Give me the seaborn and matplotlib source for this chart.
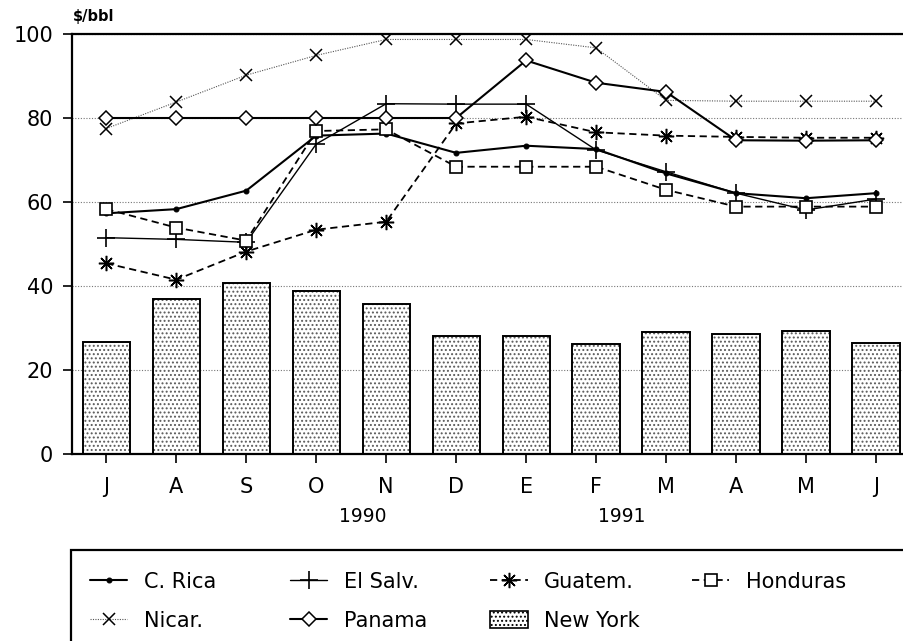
import numpy as np
import matplotlib
matplotlib.use("Agg")
import matplotlib.pyplot as plt
import seaborn as sns
from matplotlib.lines import Line2D
from matplotlib.patches import Patch, Rectangle
from matplotlib.transforms import blended_transform_factory

# Monthly prices, $/bbl, July 1990 - June 1991
months = ["J", "A", "S", "O", "N", "D", "E", "F", "M", "A", "M", "J"]
new_york = [26.6, 37.0, 40.8, 38.8, 35.8, 28.1, 28.1, 26.2, 29.1, 28.6, 29.3, 26.4]
c_rica = [57.3, 58.3, 62.7, 75.8, 76.3, 71.7, 73.4, 72.6, 66.8, 62.1, 60.9, 62.1]
el_salv = [51.5, 51.1, 50.4, 73.8, 83.4, 83.3, 83.3, 72.4, 67.2, 62.1, 58.1, 60.7]
guatem = [45.4, 41.5, 48.2, 53.4, 55.3, 78.7, 80.3, 76.6, 75.8, 75.5, 75.3, 75.3]
honduras = [58.3, 53.9, 50.8, 76.9, 77.3, 68.4, 68.4, 68.4, 62.9, 58.9, 58.9, 58.9]
nicar = [77.5, 83.8, 90.2, 94.9, 98.7, 98.7, 98.7, 96.7, 84.2, 84.0, 84.0, 84.0]
panama = [80.0, 80.0, 80.0, 80.0, 80.0, 80.0, 93.7, 88.4, 86.2, 74.7, 74.6, 74.7]
year_labels = ["1990", "1991"]
year_label_pos = [3.67, 7.36]

sns.set_style("ticks")
plt.rcParams["font.family"] = ["DejaVu Sans"]
plt.rcParams["text.color"] = "black"
plt.rcParams["hatch.linewidth"] = 0.9

W, H = 904, 641
fig = plt.figure(figsize=(W / 100, H / 100), dpi=100)
ax = fig.add_axes([72 / W, 187 / H, 832 / W, 420 / H])

pos = np.arange(len(months))

# New York bars: stippled fill, then a black outline on top
stipple = "...."
stipple_color = "#5a5a5a"
sns.barplot(x=pos, y=new_york, color="white", saturation=1, width=0.675,
            edgecolor=stipple_color, linewidth=0, hatch=stipple, errorbar=None,
            ax=ax, zorder=2)
sns.barplot(x=pos, y=new_york, color="black", fill=False, width=0.675,
            linewidth=1.4, errorbar=None, ax=ax, zorder=2.1)

styles = {
    "C. Rica": dict(color="black", linewidth=1.5, linestyle="-", marker="o",
                    markersize=3.5, markerfacecolor="black",
                    markeredgecolor="black", markeredgewidth=0.8),
    "El Salv.": dict(color="black", linewidth=1.0, linestyle="-", marker="+",
                     markersize=13, markerfacecolor="black",
                     markeredgecolor="black", markeredgewidth=1.2),
    "Guatem.": dict(color="black", linewidth=1.3, linestyle=(0, (4, 2.5)),
                    marker=(8, 2, 0), markersize=11, markerfacecolor="black",
                    markeredgecolor="black", markeredgewidth=1.1),
    "Honduras": dict(color="black", linewidth=1.3, linestyle=(0, (4, 2.5)),
                     marker="s", markersize=9, markerfacecolor="white",
                     markeredgecolor="black", markeredgewidth=1.2),
    "Nicar.": dict(color="#555555", linewidth=0.8, linestyle=(0, (1, 1.2)),
                   marker="x", markersize=8, markerfacecolor="black",
                   markeredgecolor="black", markeredgewidth=1.1),
    "Panama": dict(color="black", linewidth=1.5, linestyle="-", marker="D",
                   markersize=7, markerfacecolor="white",
                   markeredgecolor="black", markeredgewidth=1.1),
}
series = {
    "C. Rica": c_rica,
    "El Salv.": el_salv,
    "Guatem.": guatem,
    "Honduras": honduras,
    "Nicar.": nicar,
    "Panama": panama,
}
for name, vals in series.items():
    sns.lineplot(x=pos, y=vals, ax=ax, legend=False, zorder=3, **styles[name])

ax.set_xlim(-0.49, 11.4)
ax.set_ylim(0, 100)
ax.set_yticks([0, 20, 40, 60, 80, 100])
ax.set_xticks(pos)
ax.set_xticklabels(months)
ax.set_xlabel("")
ax.set_ylabel("")
ax.tick_params(axis="y", length=6.5, width=1.2, pad=7, labelsize=15, colors="black")
ax.tick_params(axis="x", length=6.5, width=1.2, pad=10, labelsize=15, colors="black")
ax.yaxis.grid(True, color="#777777", linewidth=0.8, linestyle=(0, (1, 1.5)))
ax.set_axisbelow(True)
for side in ("left", "bottom", "top"):
    ax.spines[side].set_linewidth(1.6)
    ax.spines[side].set_color("black")
ax.spines["right"].set_visible(False)

# Year labels under the month axis
trans = blended_transform_factory(ax.transData, fig.transFigure)
for lbl, xp in zip(year_labels, year_label_pos):
    ax.text(xp, (H - 517) / H, lbl, transform=trans, ha="center", va="center",
            fontsize=13.5, color="black")

fig.text(73 / W, 1 - 16 / H, "$/bbl", fontsize=10.5, fontweight="bold",
         ha="left", va="center", color="black")

# Legend: four columns inside an open box below the chart
def handle(name):
    return Line2D([], [], **styles[name])

ny_handle = Patch(facecolor="white", edgecolor="black", hatch=stipple,
                  linewidth=1.2)
columns = [
    ([handle("C. Rica"), handle("Nicar.")], ["C. Rica", "Nicar."], 90),
    ([handle("El Salv."), handle("Panama")], ["El Salv.", "Panama"], 290),
    ([handle("Guatem."), ny_handle], ["Guatem.", "New York"], 490),
    ([handle("Honduras")], ["Honduras"], 692),
]
fs = 15
for hs, ls, xpx in columns:
    fig.legend(hs, ls, loc="upper left", bbox_to_anchor=(xpx / W, (H - 572) / H),
               frameon=False, borderpad=0, borderaxespad=0, fontsize=fs,
               handlelength=1.8, handleheight=0.85, handletextpad=0.8,
               labelspacing=0.9, numpoints=1, labelcolor="black")

fig.add_artist(Rectangle((71 / W, -0.05), 1.2, (H - 550) / H + 0.05,
                         transform=fig.transFigure, fill=False,
                         edgecolor="black", linewidth=1.6))

fig.savefig("out.png", dpi=100)
